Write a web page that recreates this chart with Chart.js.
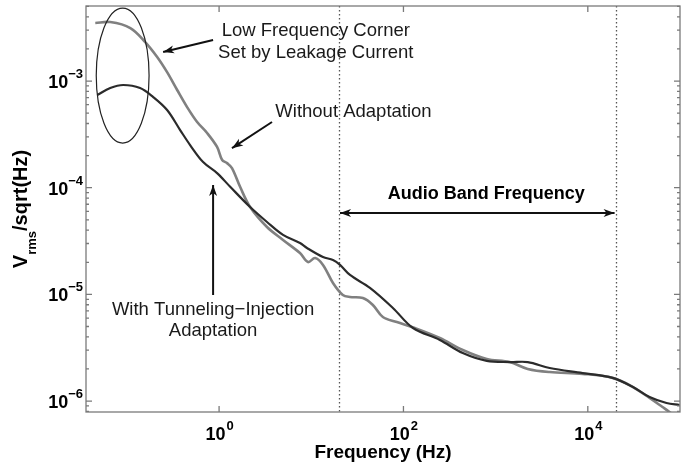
<!DOCTYPE html>
<html>
<head>
<meta charset="utf-8">
<script src="https://cdn.jsdelivr.net/npm/chart.js@4.4.1/dist/chart.umd.min.js"></script>
<style>
  html, body { margin: 0; padding: 0; background: #fff; }
  canvas { display: block; }
</style>
</head>
<body>
<canvas id="noiseChart" width="690" height="464"></canvas>
<script>
// noise spectrum (Hz, Vrms/sqrt(Hz))
const withFreq = [0.0477, 0.0659, 0.0912, 0.139, 0.193, 0.273, 0.378, 0.485, 0.671, 0.951, 1.32, 2.17, 3.31, 4.94, 7.54, 8.98, 13.4, 17.2, 20.5, 26.3, 43.3, 76.8, 127, 248, 440, 801, 1422, 2228, 3857, 8790, 18570, 30560, 46750, 71400, 98800]
const withVals = [7.39e-4, 8.60e-4, 9.18e-4, 8.60e-4, 7.08e-4, 5.35e-4, 3.47e-4, 2.51e-4, 1.74e-4, 1.37e-4, 1.02e-4, 6.59e-5, 4.77e-5, 3.61e-5, 3.03e-5, 2.72e-5, 2.24e-5, 2.10e-5, 1.89e-5, 1.52e-5, 1.15e-5, 7.46e-6, 4.84e-6, 3.74e-6, 2.82e-6, 2.38e-6, 2.32e-6, 2.32e-6, 2.04e-6, 1.83e-6, 1.65e-6, 1.36e-6, 1.09e-6, 9.59e-7, 9.19e-7]

const withoutFreq = [0.0454, 0.0659, 0.109, 0.158, 0.213, 0.273, 0.351, 0.450, 0.578, 0.741, 0.951, 1.08, 1.22, 1.38, 1.69, 2.17, 3.31, 4.94, 7.54, 9.21, 11.0, 13.4, 17.2, 22.0, 26.3, 36.3, 46.6, 59.8, 84.8, 133, 248, 440, 801, 1422, 2228, 3857, 8790, 18570, 30560, 46750, 64600, 76900, 100000]
const withoutVals = [3.50e-3, 3.57e-3, 3.14e-3, 2.32e-3, 1.68e-3, 1.21e-3, 8.24e-4, 5.70e-4, 4.13e-4, 3.26e-4, 2.41e-4, 1.82e-4, 1.70e-4, 1.53e-4, 1.02e-4, 6.59e-5, 4.28e-5, 3.24e-5, 2.44e-5, 2.01e-5, 2.19e-5, 1.89e-5, 1.28e-5, 9.87e-6, 9.46e-6, 9.25e-6, 7.96e-6, 6.14e-6, 5.51e-6, 4.84e-6, 3.90e-6, 3.01e-6, 2.48e-6, 2.32e-6, 2.00e-6, 1.87e-6, 1.80e-6, 1.65e-6, 1.36e-6, 1.07e-6, 8.80e-7, 7.91e-7, 6.65e-7]

// audio band edges (Hz)
const bandEdges = [20, 20000]

// tick labels as powers of ten
const xTickExp = [0, 2, 4]
const yTickExp = [-6, -5, -4, -3]

const toPoints = (fs, vs) => fs.map((f, i) => ({ x: f, y: vs[i] }))

// annotation anchors in data units
const notes = {
    ellipse: { f: [0.0465, 0.174], v: [2.62e-4, 4.83e-3] },
    corner: { f: 11.2, v: [2.64e-3, 1.64e-3], lines: ["Low Frequency Corner", "Set by Leakage Current"] },
    cornerArrow: { from: [0.861, 2.42e-3], to: [0.247, 1.87e-3] },
    without: { f: 28.7, v: [4.6e-4], lines: ["Without Adaptation"] },
    withoutArrow: { from: [3.75, 4.13e-4], to: [1.38, 2.35e-4] },
    tunnel: { f: 0.861, v: [6.41e-6, 4.07e-6], lines: ["With Tunneling\u2212Injection", "Adaptation"] },
    tunnelArrow: { from: [0.861, 9.87e-6], to: [0.861, 1.06e-4] },
    band: { f: 791, v: [7.83e-5], lines: ["Audio Band Frequency"] },
    bandArrowV: 5.79e-5
}

const FONT = "'Liberation Sans', Arial, Helvetica, sans-serif"

function arrow(ctx, x1, y1, x2, y2, both) {
    const head = (xa, ya, xb, yb) => {
        const a = Math.atan2(yb - ya, xb - xa)
        ctx.beginPath()
        ctx.moveTo(xb, yb)
        ctx.lineTo(xb - 11 * Math.cos(a) + 4 * Math.sin(a), yb - 11 * Math.sin(a) - 4 * Math.cos(a))
        ctx.lineTo(xb - 8 * Math.cos(a), yb - 8 * Math.sin(a))
        ctx.lineTo(xb - 11 * Math.cos(a) - 4 * Math.sin(a), yb - 11 * Math.sin(a) + 4 * Math.cos(a))
        ctx.closePath()
        ctx.fill()
    }
    ctx.beginPath()
    ctx.moveTo(x1, y1)
    ctx.lineTo(x2, y2)
    ctx.stroke()
    head(x1, y1, x2, y2)
    if (both) head(x2, y2, x1, y1)
}

const decor = {
    id: "decor",
    beforeDatasetsDraw(chart) {
        const { ctx, chartArea: a, scales: { x } } = chart
        ctx.save()
        ctx.strokeStyle = "#555"
        ctx.lineWidth = 1.3
        ctx.setLineDash([1.5, 2.5])
        bandEdges.forEach(f => {
            const px = Math.round(x.getPixelForValue(f)) + 0.5
            ctx.beginPath()
            ctx.moveTo(px, a.top)
            ctx.lineTo(px, a.bottom)
            ctx.stroke()
        })
        ctx.restore()
    },
    afterDraw(chart) {
        const { ctx, chartArea: a, scales: { x, y } } = chart
        ctx.save()

        // box
        ctx.strokeStyle = "#7a7a7a"
        ctx.lineWidth = 1.3
        ctx.strokeRect(a.left, a.top, a.right - a.left, a.bottom - a.top)

        // inward ticks
        ctx.beginPath()
        xTickExp.forEach(e => {
            const px = x.getPixelForValue(Math.pow(10, e))
            ctx.moveTo(px, a.bottom); ctx.lineTo(px, a.bottom - 6)
            ctx.moveTo(px, a.top); ctx.lineTo(px, a.top + 6)
        })
        for (let e = -7; e <= -3; e++) {
            for (let m = 1; m <= 9; m++) {
                const v = m * Math.pow(10, e)
                if (v < y.min || v > y.max) continue
                const py = y.getPixelForValue(v)
                const len = m === 1 ? 6 : 3
                ctx.moveTo(a.left, py); ctx.lineTo(a.left + len, py)
                ctx.moveTo(a.right, py); ctx.lineTo(a.right - len, py)
            }
        }
        ctx.stroke()

        // tick labels
        ctx.fillStyle = "#000"
        ctx.textBaseline = "alphabetic"
        const baseFont = "bold 18px " + FONT
        const expFont = "bold 13px " + FONT
        const expText = e => String(e).replace("-", "\u2212")
        xTickExp.forEach(e => {
            const px = x.getPixelForValue(Math.pow(10, e))
            ctx.font = baseFont
            const w1 = ctx.measureText("10").width
            ctx.font = expFont
            const w2 = ctx.measureText(expText(e)).width
            const x0 = px - (w1 + w2) / 2
            ctx.textAlign = "left"
            ctx.font = baseFont
            ctx.fillText("10", x0, a.bottom + 28)
            ctx.font = expFont
            ctx.fillText(expText(e), x0 + w1 + 1, a.bottom + 18)
        })
        yTickExp.forEach(e => {
            const py = y.getPixelForValue(Math.pow(10, e))
            ctx.font = expFont
            const w2 = ctx.measureText(expText(e)).width
            ctx.textAlign = "left"
            ctx.fillText(expText(e), a.left - 3 - w2, py - 3)
            ctx.font = baseFont
            const w1 = ctx.measureText("10").width
            ctx.fillText("10", a.left - 3 - w2 - w1, py + 7)
        })

        // axis titles
        ctx.font = "bold 19px " + FONT
        ctx.textAlign = "center"
        ctx.fillText("Frequency (Hz)", (a.left + a.right) / 2, 458)

        ctx.save()
        ctx.translate(27, 209)
        ctx.rotate(-Math.PI / 2)
        ctx.textAlign = "left"
        const big = "bold 20px " + FONT, small = "bold 13px " + FONT
        ctx.font = big
        const wV = ctx.measureText("V").width
        const wS = ctx.measureText("/sqrt(Hz)").width
        ctx.font = small
        const wR = ctx.measureText("rms").width
        let sx = -(wV + wR + wS) / 2
        ctx.font = big
        ctx.fillText("V", sx, 0)
        ctx.font = small
        ctx.fillText("rms", sx + wV, 9)
        ctx.font = big
        ctx.fillText("/sqrt(Hz)", sx + wV + wR, 0)
        ctx.restore()

        // ellipse around the low frequency corner
        const el = notes.ellipse
        const ex1 = x.getPixelForValue(el.f[0]), ex2 = x.getPixelForValue(el.f[1])
        const ey1 = y.getPixelForValue(el.v[1]), ey2 = y.getPixelForValue(el.v[0])
        ctx.strokeStyle = "#222"
        ctx.lineWidth = 1.2
        ctx.beginPath()
        ctx.ellipse((ex1 + ex2) / 2, (ey1 + ey2) / 2, (ex2 - ex1) / 2, (ey2 - ey1) / 2, 0, 0, Math.PI * 2)
        ctx.stroke()

        // annotation texts
        ctx.fillStyle = "#1a1a1a"
        ctx.textAlign = "center"
        ;[notes.corner, notes.without, notes.tunnel].forEach(n => {
            ctx.font = "18.5px " + FONT
            n.lines.forEach((t, i) => ctx.fillText(t, x.getPixelForValue(n.f), y.getPixelForValue(n.v[i])))
        })
        ctx.font = "bold 18px " + FONT
        ctx.fillStyle = "#000"
        ctx.fillText(notes.band.lines[0], x.getPixelForValue(notes.band.f), y.getPixelForValue(notes.band.v[0]))

        // arrows
        ctx.strokeStyle = "#111"
        ctx.fillStyle = "#111"
        ctx.lineWidth = 2
        ;[notes.cornerArrow, notes.withoutArrow, notes.tunnelArrow].forEach(r => {
            arrow(ctx, x.getPixelForValue(r.from[0]), y.getPixelForValue(r.from[1]),
                x.getPixelForValue(r.to[0]), y.getPixelForValue(r.to[1]), false)
        })
        const by = y.getPixelForValue(notes.bandArrowV)
        arrow(ctx, x.getPixelForValue(bandEdges[0]) + 1, by, x.getPixelForValue(bandEdges[1]) - 1, by, true)

        ctx.restore()
    }
}

document.addEventListener("DOMContentLoaded", () => {

    const ctx = document.getElementById("noiseChart")

    new Chart(ctx, {
        type: "scatter",
        data: {
            datasets: [{
                label: "With Tunneling\u2212Injection Adaptation",
                data: toPoints(withFreq, withVals),
                borderColor: "#2b2b2b",
                borderWidth: 2.2,
                showLine: true,
                pointRadius: 0,
                tension: 0.35,
                order: 0
            }, {
                label: "Without Adaptation",
                data: toPoints(withoutFreq, withoutVals),
                borderColor: "#808080",
                borderWidth: 2.6,
                showLine: true,
                pointRadius: 0,
                tension: 0.35,
                order: 1
            }]
        },
        options: {
            responsive: false,
            animation: false,
            layout: { padding: { left: 86, top: 6, right: 10, bottom: 52 } },
            plugins: {
                legend: { display: false },
                tooltip: { enabled: false }
            },
            scales: {
                x: { type: "logarithmic", min: 0.036, max: 1e5, display: false },
                y: { type: "logarithmic", min: 7.9e-7, max: 5.05e-3, display: false }
            }
        },
        plugins: [decor]
    })
})
</script>
</body>
</html>
